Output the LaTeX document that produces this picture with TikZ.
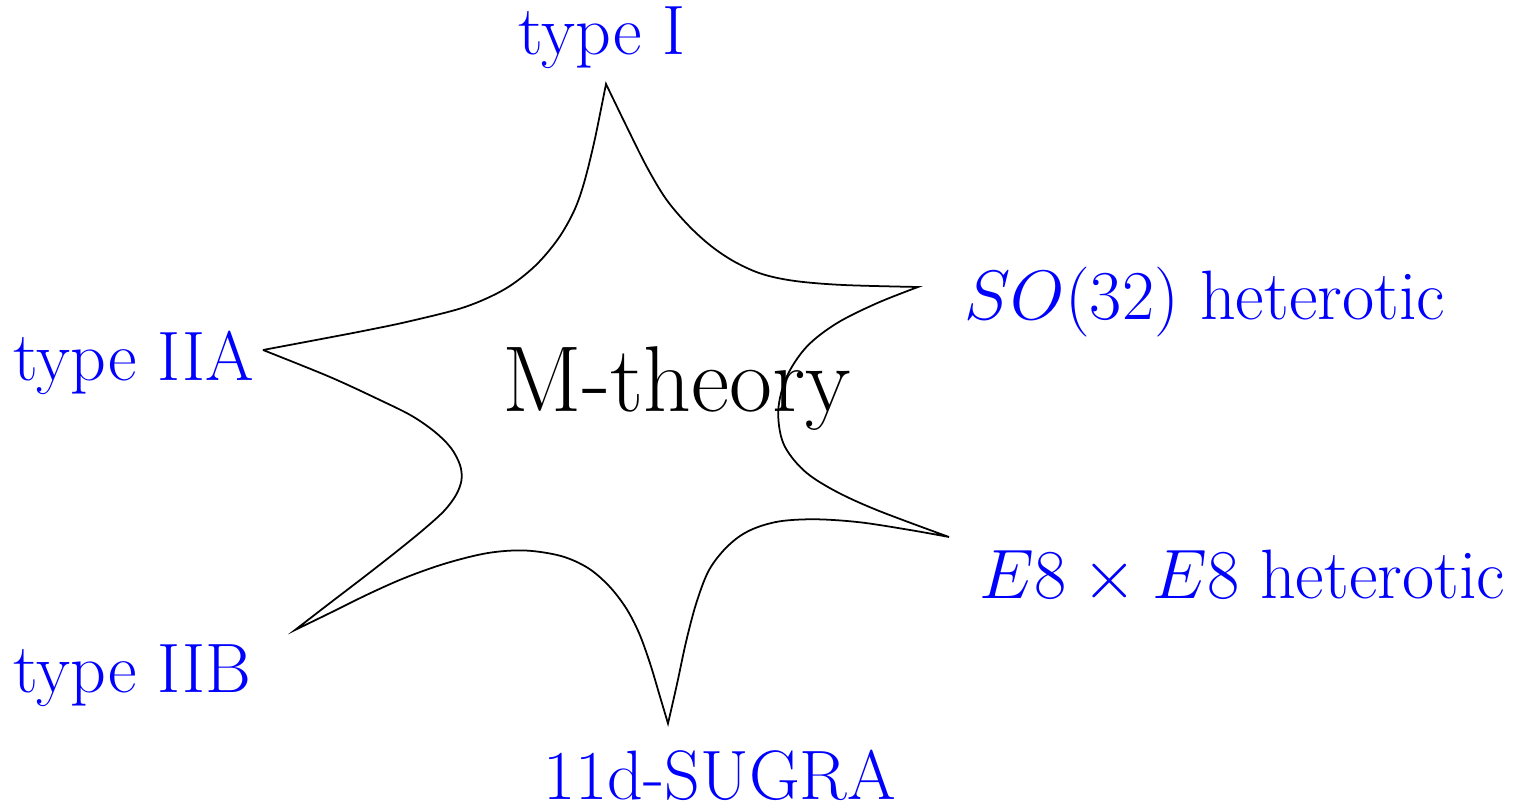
\RequirePackage{fix-cm}
\documentclass[tikz,border=0pt]{standalone}
\begin{document}
\begin{tikzpicture}[x=0.01cm,y=-0.01cm,
  lbl/.style={text=blue,inner sep=0pt,anchor=base west,font=\fontsize{19.9}{24}\selectfont},
  big/.style={inner sep=0pt,anchor=base west,font=\fontsize{26.6}{32}\selectfont},
  starline/.style={draw=black,line width=0.5pt},
  sm/.style={smooth,tension=0.55}]
\useasboundingbox (0,0) rectangle (1513,807);
% tips
\coordinate (tT) at (606,84);
\coordinate (tR1) at (918,287);
\coordinate (tR2) at (949,537);
\coordinate (tB) at (668,723.5);
\coordinate (tL2) at (295,630);
\coordinate (tL1) at (263,350);
\path[starline]
  plot[sm] coordinates {(263,350) (316.6,339.9) (365.7,330.5) (410.3,321.1) (465,307) (505,289) (535,266) (558,239) (574,211) (584,183) (594,143) (602,104) (606,84)}
  -- plot[sm] coordinates {(606,84) (626.7,126.7) (646.7,166.7) (666,199) (688,225) (711,246) (735,262) (762,274) (795,281) (843.3,285) (918,287)}
  -- plot[sm] coordinates {(918,287) (876.7,303.3) (836.7,323.3) (806.7,346.7) (786.7,376.7) (778.3,410) (783.3,443.3) (803.3,470) (833.3,490) (876.7,510) (949,537)}
  -- plot[sm] coordinates {(949,537) (910,530) (860,522.3) (816.7,519.3) (782,521) (758,527) (740,536) (723,551) (708,572) (696,604) (686,642) (677,684) (668,723.5)}
  -- plot[sm] coordinates {(668,723.5) (660,696.7) (650,663.3) (639,633) (626,608) (609,586) (588,568) (561,556) (525,550.5) (488,553) (447,563) (407,577) (370,593.3) (330,613) (295,630)}
  -- plot[sm] coordinates {(295,630) (330,603) (364,577) (396,552) (423,530) (444,511) (456,495) (461.5,480) (460,465) (451,448) (435,432) (412,416) (382,401) (330,377) (263,350)};
% labels
\node[big] (m) at (502,412) {M-theory};
\node[lbl] (t1) at (518,55) {type I};
\node[lbl] (so) at (964,320) {$SO(32)$ heterotic};
\node[lbl] (t2a) at (13,381) {type IIA};
\node[lbl] (e8) at (979,598) {$E8\times E8$ heterotic};
\node[lbl] (t2b) at (13,692) {type IIB};
\node[lbl] (sg) at (543,799) {11d-SUGRA};
\end{tikzpicture}
\end{document}
